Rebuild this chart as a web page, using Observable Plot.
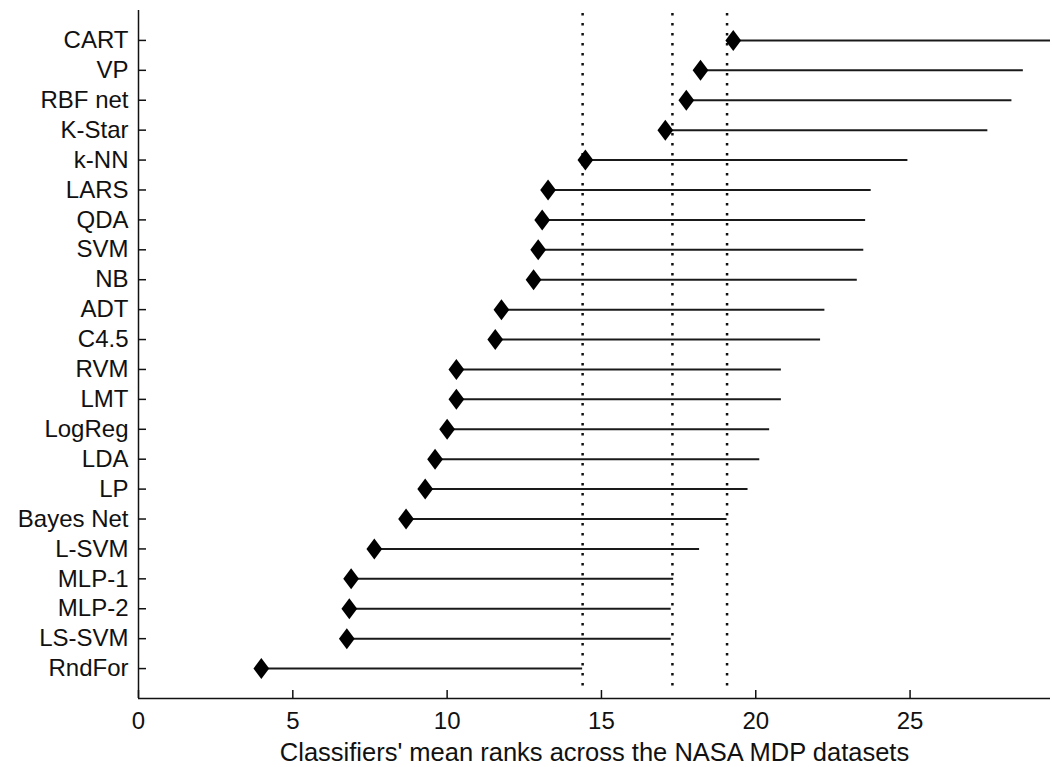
<!DOCTYPE html>
<html><head><meta charset="utf-8">
<script src="https://cdn.jsdelivr.net/npm/d3@7"></script>
<script src="https://cdn.jsdelivr.net/npm/@observablehq/plot@0.6"></script>
<style>body{margin:0;background:#fff} svg{display:block}</style>
</head><body><div id="chart"></div>
<script>
const classifiers = ["CART","VP","RBF net","K-Star","k-NN","LARS","QDA","SVM","NB","ADT","C4.5","RVM","LMT","LogReg","LDA","LP","Bayes Net","L-SVM","MLP-1","MLP-2","LS-SVM","RndFor"];
const meanRanks = [19.27,18.21,17.75,17.07,14.48,13.27,13.08,12.95,12.80,11.76,11.56,10.30,10.30,10.00,9.61,9.29,8.67,7.64,6.89,6.83,6.75,3.98];
const intervalEnds = [29.74,28.67,28.30,27.52,24.93,23.74,23.56,23.50,23.29,22.24,22.10,20.83,20.83,20.45,20.13,19.75,19.07,18.18,17.34,17.26,17.26,14.39];
const cdLines = [14.39,17.30,19.07];
const xTicks = [0,5,10,15,20,25];
const xMax = 29.55;
const xLabel = "Classifiers' mean ranks across the NASA MDP datasets";

const n = classifiers.length;
const rows = classifiers.map((name, i) => ({name, pos: n - i, rank: meanRanks[i], end: intervalEnds[i]}));

const tallDiamond = {
  draw(ctx, size) {
    const r = Math.sqrt(size / Math.PI);
    const w = r * 0.75;
    ctx.moveTo(0, -r); ctx.lineTo(w, 0); ctx.lineTo(0, r); ctx.lineTo(-w, 0); ctx.closePath();
  }
};

const chart = Plot.plot({
  width: 1052, height: 767,
  marginLeft: 138, marginRight: 2, marginTop: 10, marginBottom: 69,
  style: {fontFamily: "'Liberation Sans', Arial, sans-serif", fontSize: "24px", color: "#111", background: "#fff"},
  x: {domain: [0, xMax]},
  y: {domain: [0, n + 1]},
  marks: [
    Plot.ruleX(cdLines, {stroke: "#111", strokeWidth: 2.5, strokeDasharray: "2.5,7.5", insetTop: 3, insetBottom: 9}),
    Plot.ruleY(rows, {y: "pos", x1: "rank", x2: "end", stroke: "#1a1a1a", strokeWidth: 2, clip: true}),
    Plot.dot(rows, {y: "pos", x: "rank", r: 10.5, symbol: tallDiamond, fill: "#000", stroke: "none"}),
    Plot.ruleX([0], {stroke: "#111", strokeWidth: 1.5}),
    Plot.ruleY([0], {stroke: "#111", strokeWidth: 1.5}),
    Plot.axisX({ticks: xTicks, tickSize: -8, tickPadding: 21, label: null, stroke: "#111", strokeWidth: 1.5}),
    Plot.axisY({ticks: rows.map(d => d.pos), tickFormat: p => classifiers[n - p], tickSize: -8, tickPadding: 18, label: null, stroke: "#111", strokeWidth: 1.5}),
    Plot.text([xLabel], {frameAnchor: "bottom", dy: 44, lineAnchor: "top", fontSize: 25.5, fill: "#111"})
  ]
});
document.getElementById("chart").appendChild(chart);
</script>
</body></html>
